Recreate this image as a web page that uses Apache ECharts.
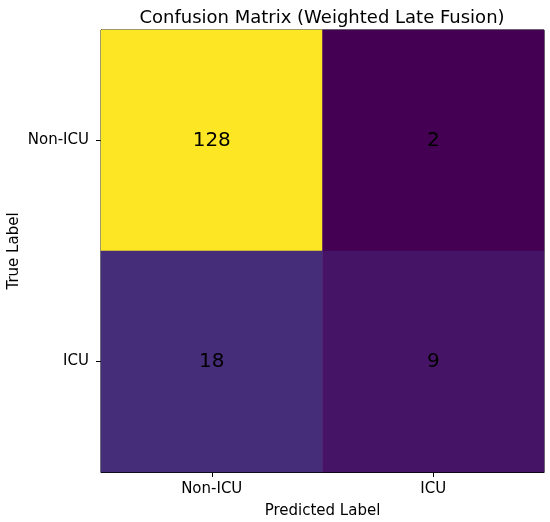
<!DOCTYPE html>
<html>
<head>
<meta charset="utf-8">
<script src="https://cdn.jsdelivr.net/npm/echarts@6/dist/echarts.min.js"></script>
<style>
html,body{margin:0;padding:0;background:#fff;}
#chart{width:550px;height:522px;}
</style>
</head>
<body>
<div id="chart"></div>
<script>
const predictedLabels = ['Non-ICU', 'ICU'];
const trueLabels = ['Non-ICU', 'ICU'];
// counts[trueIndex][predIndex]
const rowNonICU = [128, 2];
const rowICU = [18, 9];
const counts = [rowNonICU, rowICU];
const viridis = ['#440154','#482475','#414487','#355f8d','#2a788e','#21918c','#22a884','#44bf70','#7ad151','#bddf26','#fde725'];

const data = [];
counts.forEach((row, ti) => row.forEach((v, pi) => data.push([pi, ti, v])));
const allVals = data.map(d => d[2]);

const font = 'DejaVu Sans';
const chart = echarts.init(document.getElementById('chart'), null, {renderer: 'canvas'});
chart.setOption({
  animation: false,
  backgroundColor: '#fff',
  title: {
    text: 'Confusion Matrix (Weighted Late Fusion)',
    left: 317,
    textAlign: 'center',
    top: 4,
    textStyle: {fontFamily: font, fontSize: 18, fontWeight: 'normal', color: '#000'}
  },
  grid: {left: 101, right: 6, top: 30, bottom: 50, containLabel: false, outerBoundsMode: 'none', show: true, borderColor: '#000', borderWidth: 1, backgroundColor: 'transparent'},
  xAxis: {
    type: 'category',
    data: predictedLabels,
    name: 'Predicted Label',
    nameLocation: 'middle',
    nameGap: 32,
    nameMoveOverlap: false,
    nameTextStyle: {fontFamily: font, fontSize: 15, color: '#000'},
    axisLine: {show: true, lineStyle: {color: '#000', width: 1}},
    axisTick: {show: true, alignWithLabel: true, length: 5, lineStyle: {color: '#000'}},
    axisLabel: {fontFamily: font, fontSize: 15, color: '#000', margin: 10},
    splitLine: {show: false},
    splitArea: {show: false}
  },
  yAxis: {
    type: 'category',
    data: trueLabels,
    inverse: true,
    name: 'True Label',
    nameLocation: 'middle',
    nameGap: 79,
    nameMoveOverlap: false,
    nameRotate: 90,
    nameTextStyle: {fontFamily: font, fontSize: 15, color: '#000'},
    axisLine: {show: true, lineStyle: {color: '#000', width: 1}},
    axisTick: {show: true, alignWithLabel: true, length: 5, lineStyle: {color: '#000'}},
    axisLabel: {fontFamily: font, fontSize: 15, color: '#000', margin: 12},
    splitLine: {show: false},
    splitArea: {show: false}
  },
  visualMap: {
    show: false,
    type: 'continuous',
    min: Math.min(...allVals),
    max: Math.max(...allVals),
    dimension: 2,
    inRange: {color: viridis}
  },
  series: [{
    type: 'heatmap',
    data: data,
    label: {show: true, fontFamily: font, fontSize: 20, color: '#000', formatter: p => String(p.value[2])},
    itemStyle: {borderWidth: 0},
    emphasis: {disabled: true}
  }]
});
</script>
</body>
</html>
